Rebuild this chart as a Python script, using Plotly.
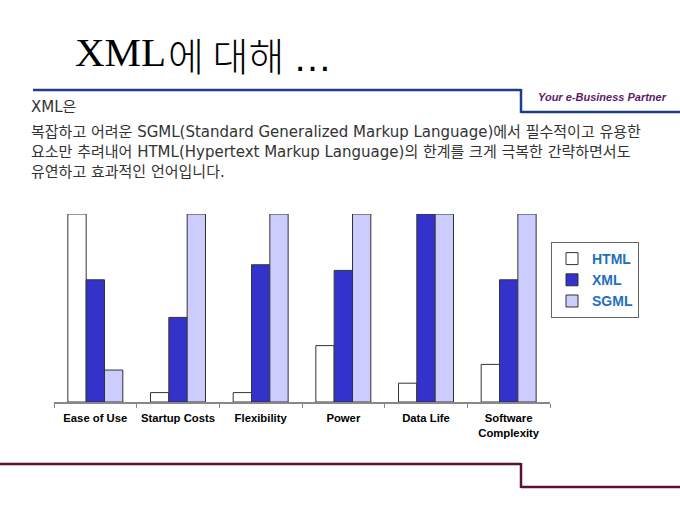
import plotly.graph_objects as go

# data
categories = ["Ease of Use", "Startup Costs", "Flexibility", "Power", "Data Life", "Software<br>Complexity"]
html_vals = [100, 5, 5, 30, 10, 20]
xml_vals = [65, 45, 73, 70, 100, 65]
sgml_vals = [17, 100, 100, 100, 100, 100]

W, H = 680, 510
L, R, T, B = 54, 130, 214, 108
PW = W - L - R
PH = H - T - B


def px(x):
    return (x - L) / PW


def py(y):
    return (H - B - y) / PH


fig = go.Figure()
fig.add_trace(go.Bar(x=categories, y=html_vals, name="HTML",
                     marker=dict(color="#FFFFFF", line=dict(color="#333333", width=1))))
fig.add_trace(go.Bar(x=categories, y=xml_vals, name="XML",
                     marker=dict(color="#3333CC", line=dict(color="#333333", width=1))))
fig.add_trace(go.Bar(x=categories, y=sgml_vals, name="SGML",
                     marker=dict(color="#CCCCFF", line=dict(color="#333333", width=1))))

shapes = [
    # blue header line with step
    dict(type="line", xref="paper", yref="paper", x0=px(33), y0=py(90), x1=px(521), y1=py(90),
         line=dict(color="#1F3C88", width=2.5)),
    dict(type="line", xref="paper", yref="paper", x0=px(521), y0=py(89), x1=px(521), y1=py(113),
         line=dict(color="#1F3C88", width=2.5)),
    dict(type="line", xref="paper", yref="paper", x0=px(521), y0=py(112), x1=px(682), y1=py(112),
         line=dict(color="#1F3C88", width=2.5)),
    # maroon footer line with step
    dict(type="line", xref="paper", yref="paper", x0=px(-2), y0=py(464), x1=px(521), y1=py(464),
         line=dict(color="#5C1035", width=2.5)),
    dict(type="line", xref="paper", yref="paper", x0=px(521), y0=py(463), x1=px(521), y1=py(488),
         line=dict(color="#5C1035", width=2.5)),
    dict(type="line", xref="paper", yref="paper", x0=px(521), y0=py(487), x1=px(682), y1=py(487),
         line=dict(color="#5C1035", width=2.5)),
]

body_font = dict(family="DejaVu Sans, Noto Sans CJK KR", size=15, color="#333333")
annotations = [
    dict(text="XML", x=px(73), y=py(77), xanchor="left", yanchor="bottom",
         font=dict(family="Liberation Serif", size=41, color="#000000")),
    dict(text="에 대해 <span style='font-family:Liberation Sans'>…</span>", x=px(166), y=py(84),
         xanchor="left", yanchor="bottom",
         font=dict(family="Noto Sans CJK KR", size=39, color="#000000", weight=300)),
    dict(text="<b><i>Your e-Business Partner</i></b>", x=px(536), y=py(97), xanchor="left", yanchor="middle",
         font=dict(family="Liberation Sans", size=11, color="#5B1B6B")),
    dict(text="XML은", x=px(29), y=py(107), xanchor="left", yanchor="middle", font=body_font),
    dict(text="복잡하고 어려운 SGML(Standard Generalized Markup Language)에서 필수적이고 유용한",
         x=px(29), y=py(132), xanchor="left", yanchor="middle", font=body_font),
    dict(text="요소만 추려내어 HTML(Hypertext Markup Language)의 한계를 크게 극복한 간략하면서도",
         x=px(29), y=py(152), xanchor="left", yanchor="middle", font=body_font),
    dict(text="유연하고 효과적인 언어입니다.",
         x=px(29), y=py(172), xanchor="left", yanchor="middle", font=body_font),
]
for a in annotations:
    a.update(xref="paper", yref="paper", showarrow=False)

fig.update_layout(
    width=W, height=H,
    margin=dict(l=L, r=R, t=T, b=B),
    plot_bgcolor="white", paper_bgcolor="white",
    barmode="group", bargap=0.335, bargroupgap=0,
    showlegend=True,
    legend=dict(x=px(551), y=py(242), xanchor="left", yanchor="top",
                bordercolor="#666666", borderwidth=1, bgcolor="white",
                itemwidth=30,
                font=dict(family="Liberation Sans", size=14, color="#1F6FBF", weight="bold"),
                tracegroupgap=0),
    shapes=shapes,
    annotations=annotations,
)
fig.update_xaxes(showline=True, linecolor="#888888", linewidth=1.5,
                 ticks="outside", tickson="boundaries", ticklen=4, tickcolor="#888888",
                 ticklabelstandoff=5, tickangle=0,
                 tickfont=dict(family="Liberation Sans", size=11.3, color="#000000", weight="bold"),
                 showgrid=False)
fig.update_yaxes(visible=False, range=[0, 100])

fig.write_html("out.html", config={"displayModeBar": False},
               post_script="document.body.style.margin='0';")
